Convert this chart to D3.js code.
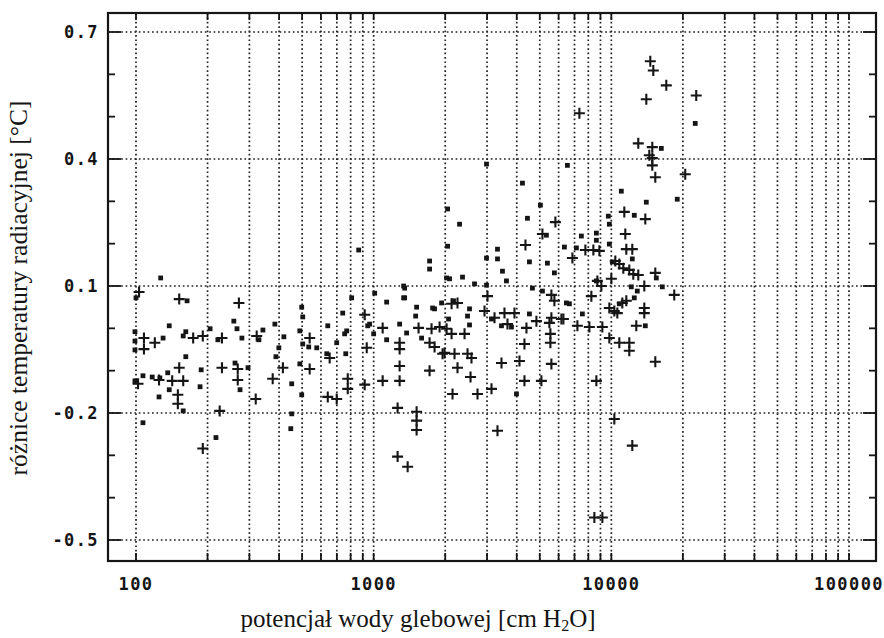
<!DOCTYPE html>
<html><head><meta charset="utf-8">
<script src="https://cdn.jsdelivr.net/npm/d3@7"></script>
<style>body{margin:0;background:#fff}svg{display:block}</style>
</head><body>
<svg id="c" width="884" height="638"></svg>
<script>
// y-axis labelled values and tick labels
const yMajorTicks = [-0.5, -0.2, 0.1, 0.4, 0.7];
const yTickLabels = ["-0.5", "-0.2", "0.1", "0.4", "0.7"];
const xLabelTicks = [100, 1000, 10000, 100000];
const xTickLabels = ["100", "1000", "10000", "100000"];
const xTitle = "potencjał wody glebowej [cm H";
const yTitle = "różnice temperatury radiacyjnej [°C]";

// series 1: small filled squares  [potential cm H2O, temperature difference °C]
const squares = [
[127,0.119],[100,0.072],[164,0.065],[138,0.006],[258,0.017],[266,-0.001],[99,-0.008],[99,-0.03],[130,-0.023],[99,-0.051],
[158,-0.018],[162,-0.008],[205,-0.001],[221,-0.027],[279,-0.023],[342,-0.004],[329,-0.027],[384,0.010],[419,-0.02],[399,-0.046],
[498,0.05],[503,0.027],[489,-0.006],[503,-0.037],[533,-0.044],[576,-0.046],[641,0.006],[741,0.036],[770,-0.006],[944,0.006],
[1010,0.083],[699,-0.034],[635,-0.06],[162,-0.067],[107,-0.112],[117,-0.115],[126,-0.117],[136,-0.105],[99,-0.124],[188,-0.098],
[186,-0.138],[261,-0.082],[296,-0.093],[452,-0.131],[388,-0.067],[489,-0.084],[125,-0.162],[138,-0.145],[158,-0.195],[274,-0.145],
[498,-0.157],[452,-0.202],[865,0.185],[107,-0.223],[217,-0.258],[448,-0.237],[808,0.072],[755,-0.013],[763,-0.06],[962,0.01],
[1000,-0.013],[1134,-0.027],[1376,-0.011],[1591,-0.023],[1719,0.159],[1719,0.14],[2027,0.119],[1134,0.062],[1350,0.095],[1350,0.072],
[1516,0.05],[1502,0.029],[1770,0.048],[1931,0.06],[1286,0.01],[2984,0.388],[6533,0.385],[4227,0.343],[2046,0.282],[2298,0.246],
[5030,0.291],[4437,0.26],[5331,0.22],[7481,0.218],[8650,0.225],[2046,0.194],[3319,0.187],[6346,0.192],[7128,0.19],[9714,0.265],
[9809,0.246],[12491,0.267],[9809,0.199],[8650,0.208],[3319,0.164],[2984,0.166],[4523,0.157],[5383,0.154],[10097,0.157],[12252,0.164],
[5760,0.131],[3483,0.135],[3620,0.112],[2365,0.121],[2086,0.117],[2657,0.105],[2984,0.102],[4656,0.095],[8650,0.112],[12859,0.088],
[12134,0.098],[16387,0.098],[5129,0.088],[12491,0.072],[6661,0.058],[7553,0.034],[1804,0.046],[2168,0.065],[2531,0.046],[2483,0.029],
[2066,0.022],[3132,0.022],[3450,0.006],[3800,0.003],[4523,0.034],[2531,0.008],[3989,-0.155],[10804,0.058],[13898,0.006],[15459,0.119],
[11015,0.324],[14033,0.298],[18937,0.305],[22542,0.484],[16229,0.425],[1337,0.1],[1337,0.072],[6470,0.06]
];

// series 2: plus signs  [potential cm H2O, temperature difference °C]
const crosses = [
[103,0.086],[152,0.069],[271,0.06],[108,-0.023],[120,-0.034],[108,-0.049],[174,-0.023],[191,-0.018],[230,-0.023],[322,-0.018],
[538,-0.023],[917,0.032],[935,-0.046],[653,-0.07],[152,-0.093],[102,-0.131],[125,-0.122],[142,-0.124],[158,-0.124],[230,-0.093],
[268,-0.096],[268,-0.122],[376,-0.119],[415,-0.093],[538,-0.096],[778,-0.119],[917,-0.133],[150,-0.157],[150,-0.178],[319,-0.167],
[641,-0.162],[699,-0.167],[225,-0.195],[191,-0.284],[1091,0.001],[1545,0.001],[1752,-0.001],[1894,0.003],[1286,-0.034],[1286,-0.049],
[1719,-0.034],[1804,-0.044],[1950,-0.06],[1286,-0.089],[1286,-0.124],[1091,-0.124],[1719,-0.1],[1261,-0.188],[1516,-0.197],[1516,-0.218],
[1516,-0.24],[778,-0.143],[1261,-0.303],[1390,-0.327],[3319,-0.242],[8484,-0.447],[9167,-0.447],[10294,-0.214],[12252,-0.277],[7338,0.508],
[14586,0.631],[15016,0.609],[17030,0.574],[14033,0.541],[22761,0.55],[12983,0.437],[14871,0.428],[14445,0.409],[14871,0.402],[14871,0.385],
[15310,0.357],[20462,0.364],[11339,0.275],[13898,0.258],[5816,0.251],[5129,0.223],[4352,0.197],[7776,0.185],[8402,0.185],[11449,0.223],
[8905,0.183],[11561,0.187],[12252,0.187],[6857,0.166],[10394,0.159],[10804,0.152],[11230,0.142],[11901,0.138],[12370,0.128],[12983,0.126],
[15310,0.131],[8734,0.112],[9078,0.1],[10000,0.117],[13763,0.1],[18395,0.079],[8241,0.076],[3013,0.076],[5595,0.079],[11561,0.065],
[9809,0.048],[10294,0.041],[10597,0.036],[11122,0.06],[13763,0.048],[13763,0.036],[5760,0.065],[6285,0.022],[7197,0.006],[8082,0.003],
[9167,0.003],[12735,0.006],[2127,0.058],[2253,0.06],[2927,0.041],[3225,0.025],[3551,0.036],[3912,0.036],[3656,0.01],[5595,0.025],
[5488,0.013],[6165,0.022],[4840,0.017],[4394,0.001],[4310,-0.037],[5541,-0.013],[5541,-0.034],[2027,-0.001],[2127,-0.013],[2412,-0.013],
[1988,-0.058],[2189,-0.06],[2483,-0.06],[2580,-0.07],[2253,-0.093],[2556,-0.115],[2147,-0.155],[2735,-0.155],[3132,-0.143],[3450,-0.082],
[4107,-0.077],[4310,-0.124],[5079,-0.124],[5595,-0.084],[8650,-0.124],[9809,-0.023],[10804,-0.034],[11901,-0.034],[11901,-0.053],[15310,-0.079]
];

const svg = d3.select("#c");
const ink = "#151515";
const frame = {l: 108, r: 876, t: 13, b: 561};

const x = d3.scaleLog().domain([100, 100000]).range([136, 849]);
const y = d3.scaleLinear().domain([-0.5, 0.7]).range([540, 32]);

const gridDash = "1.7,2.7";

// vertical dotted gridlines at every log tick
const xTicks = x.ticks();
svg.append("g").selectAll("line").data(xTicks).join("line")
  .attr("x1", d => x(d)).attr("x2", d => x(d))
  .attr("y1", frame.t).attr("y2", frame.b)
  .attr("stroke", "#222").attr("stroke-width", 1.7)
  .attr("stroke-dasharray", gridDash);

// horizontal dotted gridlines at labelled values
svg.append("g").selectAll("line").data(yMajorTicks).join("line")
  .attr("x1", frame.l).attr("x2", frame.r)
  .attr("y1", d => y(d)).attr("y2", d => y(d))
  .attr("stroke", "#222").attr("stroke-width", 1.7)
  .attr("stroke-dasharray", gridDash);

// tick marks
const gT = svg.append("g").attr("stroke", ink).attr("stroke-width", 1.8);
xTicks.forEach(d => {
  gT.append("line").attr("x1", x(d)).attr("x2", x(d)).attr("y1", frame.b).attr("y2", frame.b - 8);
  gT.append("line").attr("x1", x(d)).attr("x2", x(d)).attr("y1", frame.t).attr("y2", frame.t + 7);
});
const yMinor = d3.range(-5, 8).map(i => i / 10);
yMinor.forEach(d => {
  const major = yMajorTicks.some(m => Math.abs(m - d) < 1e-9);
  const len = major ? 13 : 7;
  gT.append("line").attr("x1", frame.l).attr("x2", frame.l + len).attr("y1", y(d)).attr("y2", y(d));
  gT.append("line").attr("x1", frame.r).attr("x2", frame.r - len).attr("y1", y(d)).attr("y2", y(d));
});

// frame
svg.append("rect").attr("x", frame.l).attr("y", frame.t)
  .attr("width", frame.r - frame.l).attr("height", frame.b - frame.t)
  .attr("fill", "none").attr("stroke", ink).attr("stroke-width", 2.2);

// tick labels
const tickFont = "'DejaVu Sans Mono', monospace";
svg.append("g").selectAll("text").data(yMajorTicks).join("text")
  .attr("x", 99).attr("y", d => y(d)).attr("dy", "0.36em")
  .attr("text-anchor", "end")
  .attr("font-family", tickFont).attr("font-weight", "bold").attr("font-size", 17)
  .attr("letter-spacing", 1.4).attr("fill", ink)
  .text((d, i) => yTickLabels[i]);

svg.append("g").selectAll("text").data(xLabelTicks).join("text")
  .attr("x", d => x(d)).attr("y", 590)
  .attr("text-anchor", "middle")
  .attr("font-family", tickFont).attr("font-weight", "bold").attr("font-size", 17)
  .attr("letter-spacing", 1.4).attr("fill", ink)
  .text((d, i) => xTickLabels[i]);

// series: squares
svg.append("g").selectAll("rect").data(squares).join("rect")
  .attr("x", d => x(d[0]) - 2.4).attr("y", d => y(d[1]) - 2.4)
  .attr("width", 4.8).attr("height", 4.8).attr("fill", ink);

// series: plus signs
const cp = svg.append("g").attr("stroke", ink).attr("stroke-width", 2.1);
cp.selectAll("path").data(crosses).join("path")
  .attr("d", d => {
    const cx = x(d[0]), cy = y(d[1]), h = 5.5;
    return `M${cx - h},${cy}H${cx + h}M${cx},${cy - h}V${cy + h}`;
  });

// axis titles
const serif = "'Liberation Serif', 'Times New Roman', serif";
const xt = svg.append("text").attr("x", 418).attr("y", 627)
  .attr("text-anchor", "middle").attr("font-family", serif).attr("font-size", 25).attr("fill", ink);
xt.append("tspan").text(xTitle);
xt.append("tspan").attr("font-size", 16).attr("dy", 4).text("2");
xt.append("tspan").attr("dy", -4).text("O]");

svg.append("text").attr("transform", "translate(27,288) rotate(-90)")
  .attr("text-anchor", "middle").attr("font-family", serif).attr("font-size", 25.5).attr("fill", ink)
  .text(yTitle);
</script>
</body></html>
